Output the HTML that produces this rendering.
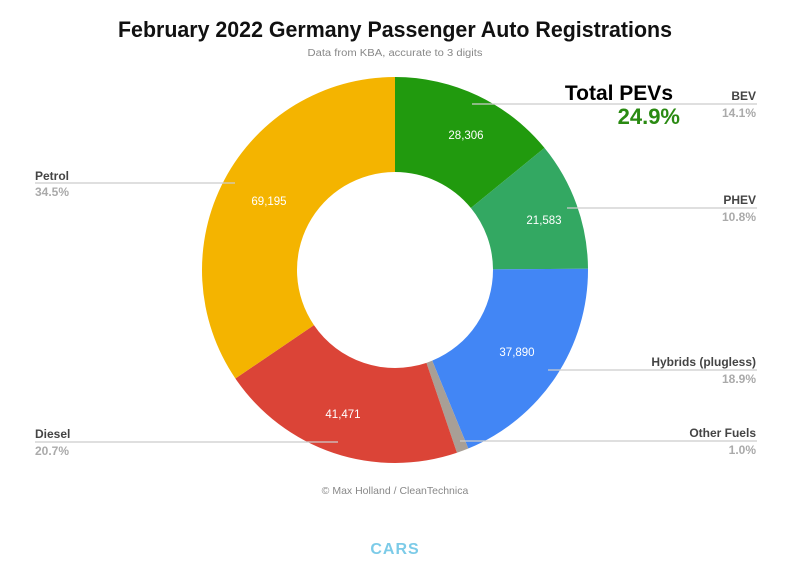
<!DOCTYPE html>
<html><head><meta charset="utf-8">
<style>
html,body{margin:0;padding:0;background:#fff;}
svg{display:block;font-family:"Liberation Sans",sans-serif;}
.lab{font-weight:bold;font-size:12px;fill:#444;}
.pct{font-weight:bold;font-size:12px;fill:#aaa;}
.val{font-size:11.5px;fill:#fff;text-anchor:middle;}
.ln{stroke:#ccc;stroke-width:1.2;}
</style></head><body>
<svg id="s" width="793" height="564" viewBox="0 0 793 564">
<text x="395" y="37" text-anchor="middle" font-size="22" font-weight="bold" fill="#111" textLength="554" lengthAdjust="spacingAndGlyphs">February 2022 Germany Passenger Auto Registrations</text>
<text x="395" y="56" text-anchor="middle" font-size="10" fill="#888" textLength="175" lengthAdjust="spacingAndGlyphs">Data from KBA, accurate to 3 digits</text>
<g id="pie"></g>
<!-- leader lines -->
<line class="ln" x1="35" y1="183" x2="235" y2="183"/>
<line class="ln" x1="35" y1="442" x2="338" y2="442"/>
<line class="ln" x1="472" y1="104" x2="757" y2="104"/>
<line class="ln" x1="567" y1="208" x2="757" y2="208"/>
<line class="ln" x1="548" y1="370" x2="757" y2="370"/>
<line class="ln" x1="460" y1="441" x2="757" y2="441"/>
<text class="lab" x="35" y="180">Petrol</text><text class="pct" x="35" y="196">34.5%</text>
<text class="lab" x="35" y="438">Diesel</text><text class="pct" x="35" y="455">20.7%</text>
<text class="lab" x="756" y="100" text-anchor="end">BEV</text><text class="pct" x="756" y="117" text-anchor="end">14.1%</text>
<text class="lab" x="756" y="204" text-anchor="end">PHEV</text><text class="pct" x="756" y="221" text-anchor="end">10.8%</text>
<text class="lab" x="756" y="366" text-anchor="end">Hybrids (plugless)</text><text class="pct" x="756" y="383" text-anchor="end">18.9%</text>
<text class="lab" x="756" y="437" text-anchor="end">Other Fuels</text><text class="pct" x="756" y="454" text-anchor="end">1.0%</text>
<text x="673" y="100" text-anchor="end" font-size="21" font-weight="bold" fill="#000">Total PEVs</text>
<text x="680" y="124" text-anchor="end" font-size="22" font-weight="bold" fill="#2a8a12">24.9%</text>
<text class="val" x="466" y="139">28,306</text>
<text class="val" x="544" y="224">21,583</text>
<text class="val" x="517" y="356">37,890</text>
<text class="val" x="343" y="418">41,471</text>
<text class="val" x="269" y="205">69,195</text>
<text x="395" y="494" text-anchor="middle" font-size="10.5" fill="#888">© Max Holland / CleanTechnica</text>
<text x="395" y="554" text-anchor="middle" font-size="16" font-weight="bold" fill="#7ccbe8" letter-spacing="1">CARS</text>
</svg>
<script>
var cx=395,cy=270,R=193,r=98;
var d=[[14.1,"#219a0e"],[10.8,"#33a862"],[18.9,"#4286f5"],[1.0,"#a89f96"],[20.7,"#db4437"],[34.5,"#f4b400"]];
var tot=100,a=0,g=document.getElementById("pie"),h="";
function p(rad,ang){var t=(ang-90)*Math.PI/180;return (cx+rad*Math.cos(t)).toFixed(2)+","+(cy+rad*Math.sin(t)).toFixed(2);}
d.forEach(function(s){var b=a+s[0]/tot*360,l=(b-a)>180?1:0;
h+='<path fill="'+s[1]+'" d="M'+p(R,a)+' A'+R+','+R+' 0 '+l+' 1 '+p(R,b)+' L'+p(r,b)+' A'+r+','+r+' 0 '+l+' 0 '+p(r,a)+' Z"/>';a=b;});
g.innerHTML=h;
</script>
</body></html>
